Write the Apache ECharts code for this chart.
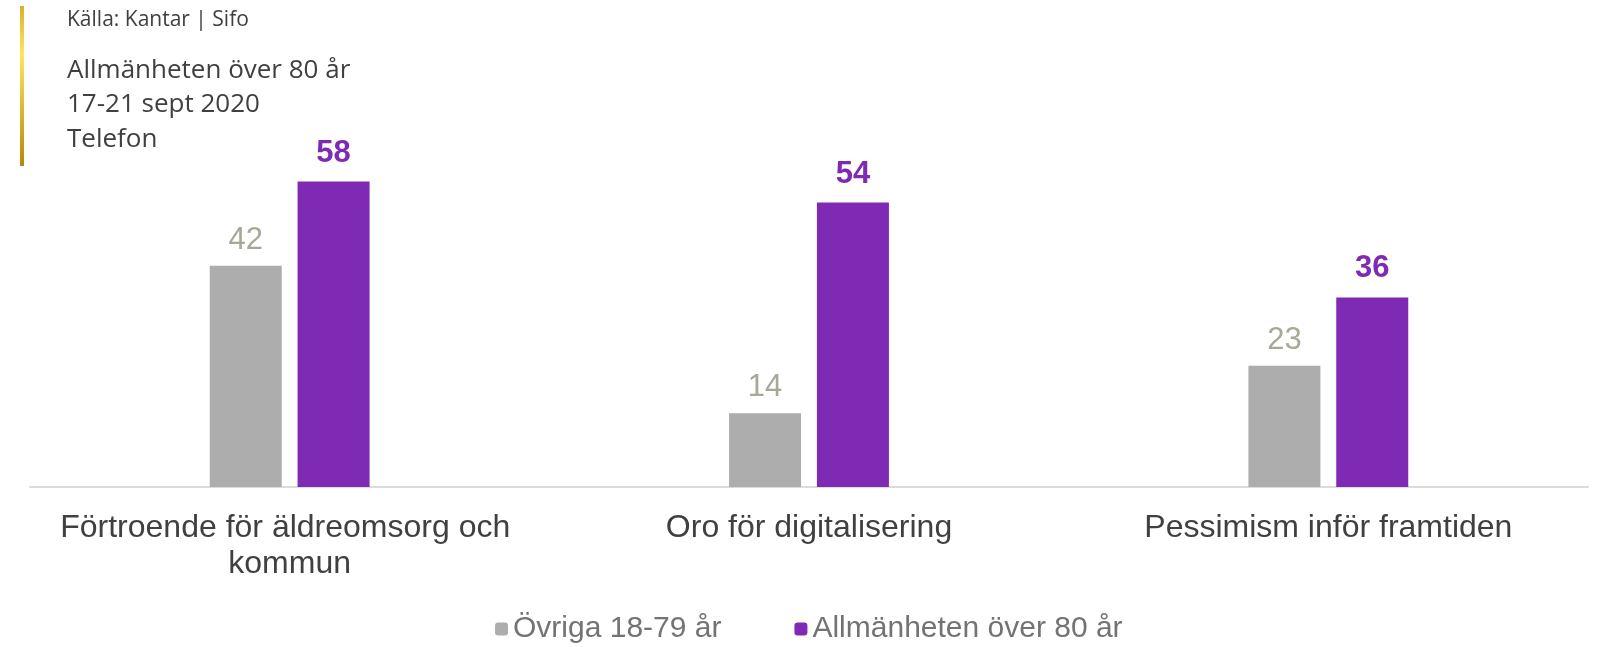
<!DOCTYPE html>
<html>
<head>
<meta charset="utf-8">
<script src="https://cdn.jsdelivr.net/npm/echarts@6/dist/echarts.min.js"></script>
<style>
  html, body { margin: 0; padding: 0; background: #fff; }
  #main { width: 1604px; height: 647px; }
</style>
</head>
<body>
<div id="main"></div>
<script>
var categories = ['Förtroende för äldreomsorg och kommun', 'Oro för digitalisering', 'Pessimism inför framtiden'];
var seriesNames = ['Övriga 18-79 år', 'Allmänheten över 80 år'];
var ovriga = [42, 14, 23];
var over80 = [58, 54, 36];
var headerLines = ['Källa: Kantar | Sifo', 'Allmänheten över 80 år', '17-21 sept 2020', 'Telefon'];

var myChart = echarts.init(document.getElementById('main'));

var option = {
    animation: false,
    textStyle: { fontFamily: 'Liberation Sans, Arial, sans-serif' },
    graphic: [
        {
            // gold side bar
            type: 'rect',
            left: 20, top: 6,
            shape: { width: 4, height: 160 },
            style: {
                fill: new echarts.graphic.LinearGradient(0, 0, 0, 1, [
                    { offset: 0, color: '#dcae2c' },
                    { offset: 0.3, color: '#fde65e' },
                    { offset: 1, color: '#b8860b' }
                ])
            }
        },
        {
            type: 'text', left: 67, top: 10,
            style: { text: headerLines[0], font: '21px "Open Sans"', fill: '#404040' }
        },
        {
            type: 'text', left: 67, top: 53,
            style: {
                text: headerLines.slice(1).join('\n'),
                font: '26px "Open Sans"', lineHeight: 34.5, fill: '#404040'
            }
        }
    ],
    legend: {
        left: 495,
        top: 614,
        padding: 0,
        itemWidth: 13,
        itemHeight: 13,
        itemGap: 73,
        textStyle: { fontSize: 30, color: '#737373' },
        data: seriesNames
    },
    grid: {
        left: 30,
        right: 16,
        top: 171,
        bottom: 160,
        containLabel: false
    },
    xAxis: {
        type: 'category',
        data: categories,
        axisLine: { lineStyle: { color: '#dcdcdc', width: 2 } },
        axisTick: { show: false },
        axisLabel: {
            interval: 0,
            margin: 23,
            fontSize: 32,
            lineHeight: 36,
            color: '#404040',
            width: 519,
            overflow: 'break',
            verticalAlign: 'top'
        }
    },
    yAxis: {
        type: 'value',
        min: 0,
        max: 60,
        show: false,
        splitLine: { show: false }
    },
    series: [
        {
            name: seriesNames[0],
            type: 'bar',
            barWidth: 72,
            barGap: '22%',
            itemStyle: { color: '#adadad' },
            label: {
                show: true,
                position: 'top',
                distance: 10,
                fontSize: 31,
                color: '#a8a898'
            },
            data: ovriga
        },
        {
            name: seriesNames[1],
            type: 'bar',
            barWidth: 72,
            itemStyle: { color: '#7f2ab4' },
            label: {
                show: true,
                position: 'top',
                distance: 13,
                fontSize: 31,
                fontWeight: 'bold',
                color: '#7f2ab4'
            },
            data: over80
        }
    ]
};

myChart.setOption(option);
</script>
</body>
</html>
